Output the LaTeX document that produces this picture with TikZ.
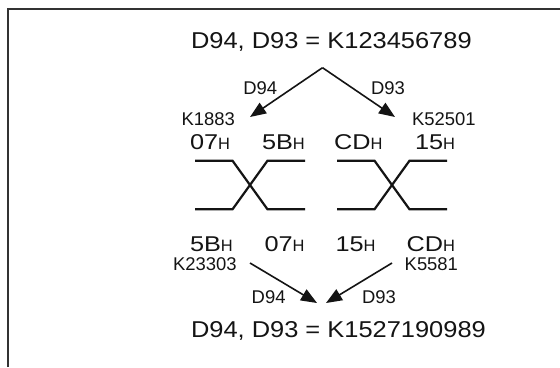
\documentclass[tikz,border=0pt]{standalone}
\usepackage{fontspec}
\setmainfont{Liberation Sans}
\usetikzlibrary{arrows.meta}
\newcommand\bigtxt[1]{\scalebox{1.11}[1]{\fontsize{23}{23}\selectfont #1}}
\newcommand\hexl[1]{\scalebox{1.18}[1]{\fontsize{21.5}{21.5}\selectfont #1}{\fontsize{16.5}{16.5}\selectfont H}}
\newcommand\smalltxt[1]{{\fontsize{18.5}{18.5}\selectfont #1}}
\tikzset{
  lbl/.style={inner sep=0pt, outer sep=0pt, anchor=base west, text=black!92},
  arr/.style={line width=1.6bp, draw=black!92, -{Triangle[length=16bp,width=12.5bp]}},
  xline/.style={line width=2.2bp, draw=black!92, line join=miter},
  frame/.style={line width=1.2bp, draw=black!80}
}
\begin{document}
\begin{tikzpicture}[x=1bp,y=-1bp]
\useasboundingbox (0,0) rectangle (560,367);
\fill[white] (0,0) rectangle (560,367);
% frame (cropped box)
\draw[frame] (8,367) -- (8,9) -- (560,9);
% titles
\node[lbl] (t1) at (191,48.3) {\bigtxt{D94, D93 = K123456789}};
\node[lbl] (t2) at (191,337) {\bigtxt{D94, D93 = K1527190989}};
% upper labels
\node[lbl] (ld94a) at (243.3,94) {\smalltxt{D94}};
\node[lbl] (ld93a) at (371,94) {\smalltxt{D93}};
\node[lbl] (k1883) at (181.5,125) {\smalltxt{K1883}};
\node[lbl] (k52501) at (412,125) {\smalltxt{K52501}};
% upper arrows
\coordinate (apex) at (322.5,67.7);
\coordinate (tipL) at (250,117);
\coordinate (tipR) at (395,117);
\draw[arr] (apex) -- (tipL);
\draw[arr] (apex) -- (tipR);
% top row of bytes
\node[lbl] (a1) at (190,149) {\hexl{07}};
\node[lbl] (a2) at (262,149) {\hexl{5B}};
\node[lbl] (a3) at (334,149) {\hexl{CD}};
\node[lbl] (a4) at (415,149) {\hexl{15}};
% crossings
\foreach \x in {195,337}{
  \draw[xline] (\x,160.7) -- ++(37.5,0) -- ++(35,48.6) -- ++(37.5,0);
  \draw[xline] (\x,209.3) -- ++(37.5,0) -- ++(35,-48.6) -- ++(37.5,0);
}
% bottom row of bytes
\node[lbl] (b1) at (190,251.7) {\hexl{5B}};
\node[lbl] (b2) at (264.5,251.7) {\hexl{07}};
\node[lbl] (b3) at (335.5,251.7) {\hexl{15}};
\node[lbl] (b4) at (406.5,251.7) {\hexl{CD}};
% lower labels
\node[lbl] (k23303) at (173,270) {\smalltxt{K23303}};
\node[lbl] (k5581) at (404.7,270) {\smalltxt{K5581}};
\node[lbl] (ld94b) at (251.7,303.3) {\smalltxt{D94}};
\node[lbl] (ld93b) at (362,303.3) {\smalltxt{D93}};
% lower arrows
\coordinate (sL) at (250,263);
\coordinate (sR) at (392,263);
\coordinate (eL) at (317,303);
\coordinate (eR) at (326,303);
\draw[arr] (sL) -- (eL);
\draw[arr] (sR) -- (eR);
\end{tikzpicture}
\end{document}
